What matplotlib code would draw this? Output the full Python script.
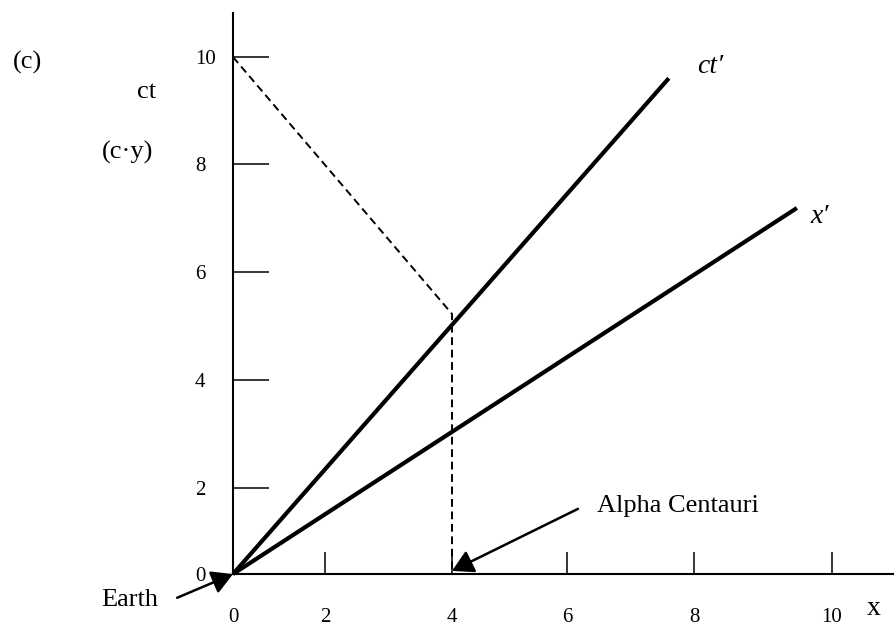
import matplotlib
matplotlib.use("Agg")
import matplotlib.pyplot as plt

plt.rcParams['font.family'] = ['Liberation Serif', 'DejaVu Serif']

# Spacetime diagram: Earth frame (x, ct) with the moving frame axes ct' and x'
x_tick_pos = [0.0, 1.68, 4.0, 6.10, 8.42, 10.94]
x_tick_labels = ['0', '2', '4', '6', '8', '10']
y_tick_pos = [0.0, 1.66, 3.75, 5.84, 7.93, 10.0]
y_tick_labels = ['0', '2', '4', '6', '8', '10']

# world line of the ship (ct' axis) and the x' axis, from the origin
ctp_x = [0.0, 7.96]
ctp_y = [0.0, 9.59]
xp_x = [0.0, 10.30]
xp_y = [0.0, 7.08]

# dashed construction: from ct = 10 back to the arrival event, then down to x = 4
dash_x = [0.0, 4.0, 4.0]
dash_y = [10.0, 5.03, 0.0]

earth_pos = (0.0, 0.0)
alpha_pos = (4.0, 0.06)

fig = plt.figure(figsize=(8.95, 6.27), dpi=100)
ax = fig.add_axes([0, 0, 1, 1])
ax.set_xlim(-4.256, 12.091)
ax.set_ylim(-1.025, 11.103)

for side in ('top', 'right'):
    ax.spines[side].set_visible(False)
ax.spines['left'].set_position(('data', 0))
ax.spines['bottom'].set_position(('data', 0))
ax.spines['left'].set_bounds(0, 10.85)
ax.spines['bottom'].set_bounds(0, 12.091)
ax.spines['left'].set_linewidth(1.5)
ax.spines['bottom'].set_linewidth(1.5)
ax.patch.set_visible(False)

ax.set_xticks(x_tick_pos)
ax.set_xticklabels(x_tick_labels)
ax.set_yticks(y_tick_pos)
ax.set_yticklabels(y_tick_labels)
ax.tick_params(axis='x', direction='in', length=15.8, width=1.1,
               pad=24.5, labelsize=15)
ax.tick_params(axis='y', direction='in', length=25.9, width=1.1,
               pad=27.4, labelsize=15)
for lab in ax.get_yticklabels():
    lab.set_horizontalalignment('left')

ax.plot(ctp_x, ctp_y, color='black', lw=3.0, solid_capstyle='butt')
ax.plot(xp_x, xp_y, color='black', lw=3.0, solid_capstyle='butt')
ax.plot(dash_x, dash_y, color='black', lw=1.4, linestyle=(0, (4.0, 2.4)))

arrow_kw = dict(arrowstyle='-|>,head_length=0.8,head_width=0.45',
                color='black', lw=1.8, shrinkA=0, shrinkB=0,
                mutation_scale=16)
ax.annotate('', xy=earth_pos, xytext=(-1.02, -0.46), arrowprops=arrow_kw)
ax.annotate('', xy=alpha_pos, xytext=(6.30, 1.26), arrowprops=arrow_kw)

ax.text(-1.88, -0.50, 'Earth', fontsize=19, ha='center', va='center')
ax.text(6.65, 1.32, 'Alpha Centauri', fontsize=19, ha='left', va='center')
ax.text(11.71, -0.66, 'x', fontsize=20, ha='center', va='center')
ax.text(-3.76, 9.90, '(c)', fontsize=19, ha='center', va='center')
ax.text(-1.57, 9.32, 'ct', fontsize=19, ha='center', va='center')
ax.text(-1.92, 8.16, '(c\u00b7y)', fontsize=19, ha='center', va='center')
ax.text(8.71, 9.81, 'ct\u2032', fontsize=20, style='italic',
        ha='center', va='center')
ax.text(10.72, 6.91, 'x\u2032', fontsize=20, style='italic',
        ha='center', va='center')

fig.savefig('out.png', dpi=100)
